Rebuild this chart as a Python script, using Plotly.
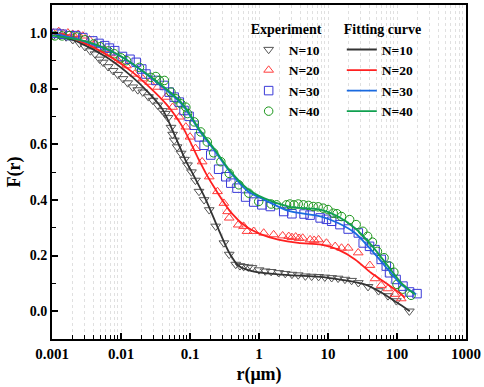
import plotly.graph_objects as go

# ---- Experimental data ----
r10 = [0.00105, 0.0013, 0.0016, 0.002, 0.0025, 0.003, 0.0036, 0.0042, 0.0049, 0.0055,
       0.0065, 0.0077, 0.009, 0.0107, 0.0125, 0.0148, 0.0175, 0.0207, 0.025, 0.029,
       0.034, 0.04, 0.044, 0.048, 0.053, 0.056, 0.059, 0.065, 0.074, 0.083,
       0.092, 0.105, 0.12, 0.135, 0.16, 0.19, 0.236, 0.31, 0.37, 0.46,
       0.53, 0.6, 0.7, 0.79, 1.0, 1.23, 1.5, 1.93, 2.4, 3.0,
       3.7, 4.7, 5.8, 7.3, 9.0, 11.3, 14, 17.6, 22, 27.5,
       38, 54, 74, 98, 151]
f10 = [0.99, 0.99, 0.985, 0.975, 0.962, 0.95, 0.935, 0.924, 0.905, 0.894,
       0.878, 0.864, 0.85, 0.835, 0.82, 0.805, 0.795, 0.787, 0.77, 0.757,
       0.74, 0.72, 0.71, 0.695, 0.66, 0.635, 0.614, 0.59, 0.567, 0.545,
       0.525, 0.5, 0.47, 0.43, 0.4, 0.364, 0.305, 0.245, 0.204, 0.168,
       0.163, 0.16, 0.158, 0.156, 0.148, 0.144, 0.142, 0.138, 0.135, 0.132,
       0.13, 0.126, 0.125, 0.124, 0.122, 0.12, 0.118, 0.114, 0.11, 0.102,
       0.088, 0.073, 0.055, 0.037, 0.0]

r20 = [0.00104, 0.00125, 0.00145, 0.0017, 0.002, 0.0024, 0.0028, 0.0035, 0.0042, 0.0058,
       0.007, 0.009, 0.012, 0.0158, 0.0207, 0.026, 0.034, 0.045, 0.056, 0.07,
       0.087, 0.1, 0.12, 0.15, 0.19, 0.25, 0.31, 0.35, 0.37, 0.5,
       0.6, 0.67, 0.84, 1.17, 1.63, 2.2, 2.7, 3.0, 3.4, 3.8,
       4.3, 5.5, 6.3, 7.3, 9.5, 12.7, 15.7, 19.6, 27.4, 40.4,
       48, 59, 74, 93, 115]
f20 = [1.0, 1.005, 0.998, 1.0, 0.995, 0.995, 0.989, 0.975, 0.96, 0.94,
       0.925, 0.9, 0.882, 0.852, 0.835, 0.823, 0.805, 0.769, 0.733, 0.698,
       0.662, 0.626, 0.585, 0.537, 0.483, 0.43, 0.388, 0.358, 0.335, 0.31,
       0.305, 0.287, 0.287, 0.281, 0.275, 0.271, 0.269, 0.265, 0.267, 0.262,
       0.263, 0.257, 0.255, 0.257, 0.245, 0.233, 0.227, 0.227, 0.21, 0.165,
       0.117, 0.093, 0.081, 0.061, 0.045]

r30 = [0.00117, 0.0014, 0.0018, 0.0022, 0.0028, 0.0039, 0.0048, 0.0058, 0.0068, 0.0081,
       0.0105, 0.0135, 0.0166, 0.02, 0.023, 0.032, 0.0425, 0.05, 0.059, 0.07,
       0.082, 0.097, 0.115, 0.136, 0.16, 0.2, 0.26, 0.33, 0.39, 0.48,
       0.64, 0.84, 1.1, 1.46, 2.28, 3.0, 4.5, 5.5, 7.7, 9.5,
       11.3, 14.9, 19.6, 27.5, 32.4, 40, 48, 59, 70, 78,
       97, 122, 152, 195]
f30 = [0.998, 0.995, 0.99, 0.99, 0.983, 0.971, 0.962, 0.954, 0.945, 0.936,
       0.915, 0.905, 0.894, 0.87, 0.852, 0.829, 0.811, 0.787, 0.769, 0.751,
       0.721, 0.70, 0.668, 0.626, 0.596, 0.561, 0.51, 0.483, 0.46, 0.442,
       0.41, 0.392, 0.382, 0.376, 0.358, 0.35, 0.349, 0.345, 0.335, 0.33,
       0.323, 0.311, 0.295, 0.281, 0.245, 0.233, 0.221, 0.186, 0.162, 0.138,
       0.114, 0.09, 0.069, 0.063]

r40 = [0.0011, 0.0014, 0.0018, 0.0023, 0.003, 0.004, 0.005, 0.0065, 0.008, 0.01,
       0.012, 0.0185, 0.027, 0.032, 0.036, 0.0425, 0.053, 0.0625, 0.074, 0.087,
       0.092, 0.115, 0.143, 0.178, 0.22, 0.28, 0.37, 0.51, 0.71, 0.99,
       1.5, 1.8, 2.5, 2.8, 3.2, 3.7, 4.4, 5.2, 6.1, 7.2,
       8.5, 10, 11.9, 13.5, 15.7, 20.6, 25.6, 32, 37.5, 44,
       52, 65, 78, 90, 100, 121, 160]
f40 = [0.989, 0.989, 0.99, 0.985, 0.975, 0.96, 0.95, 0.935, 0.925, 0.91,
       0.9, 0.876, 0.84, 0.843, 0.829, 0.829, 0.787, 0.763, 0.745, 0.733,
       0.71, 0.68, 0.644, 0.608, 0.569, 0.537, 0.495, 0.454, 0.424, 0.394,
       0.385, 0.382, 0.382, 0.385, 0.382, 0.385, 0.382, 0.38, 0.376, 0.375,
       0.37, 0.365, 0.352, 0.35, 0.34, 0.329, 0.311, 0.287, 0.269, 0.248,
       0.215, 0.192, 0.162, 0.14, 0.096, 0.079, 0.057]

# ---- Fitting curves ----
rf10 = [0.001, 0.0025, 0.0062, 0.0148, 0.024, 0.04, 0.063, 0.087, 0.109, 0.17,
        0.26, 0.37, 0.51, 0.79, 1.9, 10, 34, 59, 100, 153]
ff10 = [1.0, 0.965, 0.912, 0.84, 0.79, 0.725, 0.62, 0.54, 0.495, 0.4,
        0.293, 0.21, 0.162, 0.144, 0.132, 0.12, 0.096, 0.067, 0.031, 0.0]

rf20 = [0.001, 0.0016, 0.0049, 0.0148, 0.045, 0.078, 0.135, 0.17, 0.236, 0.4,
        0.64, 1.1, 1.9, 3.7, 8, 14, 24.7, 42, 74, 115, 130]
ff20 = [1.0, 0.99, 0.936, 0.858, 0.745, 0.662, 0.543, 0.495, 0.436, 0.352,
        0.305, 0.275, 0.257, 0.245, 0.239, 0.221, 0.186, 0.138, 0.096, 0.061, 0.049]

rf30 = [0.001, 0.0028, 0.0086, 0.026, 0.078, 0.135, 0.23, 0.38, 0.68, 1.2,
        2.7, 8, 14, 24.7, 42, 74, 115, 190]
ff30 = [1.0, 0.971, 0.924, 0.842, 0.74, 0.65, 0.575, 0.5, 0.432, 0.40,
        0.36, 0.34, 0.317, 0.281, 0.221, 0.15, 0.096, 0.061]

rf40 = [0.001, 0.003, 0.0086, 0.026, 0.078, 0.135, 0.23, 0.38, 0.68, 1.2,
        2.7, 8, 14, 24.7, 42, 74, 115, 180]
ff40 = [0.99, 0.97, 0.925, 0.845, 0.745, 0.655, 0.58, 0.505, 0.44, 0.405,
        0.376, 0.364, 0.34, 0.298, 0.239, 0.162, 0.102, 0.061]

labels = ["N=10", "N=20", "N=30", "N=40"]
x_tickvals = [0.001, 0.01, 0.1, 1, 10, 100, 1000]
x_ticktext = ["0.001", "0.01", "0.1", "1", "10", "100", "1000"]

FONT = "Liberation Serif"

fig = go.Figure()

exp_sets = [(r10, f10, "triangle-down-open", "#555555"),
            (r20, f20, "triangle-up-open", "#ff3c3c"),
            (r30, f30, "square-open", "#3a3ad8"),
            (r40, f40, "circle-open", "#1a961a")]
for (rx, fy, sym, col), lab in zip(exp_sets, labels):
    fig.add_trace(go.Scatter(x=rx, y=fy, mode="markers", name=lab, legend="legend",
                             marker=dict(symbol=sym, size=8.5, color=col,
                                         line=dict(width=1, color=col))))

fit_sets = [(rf10, ff10, "#333333"), (rf20, ff20, "#ff2020"),
            (rf30, ff30, "#1a6ae0"), (rf40, ff40, "#10a050")]
for (rx, fy, col), lab in zip(fit_sets, labels):
    fig.add_trace(go.Scatter(x=rx, y=fy, mode="lines", name=lab, legend="legend2",
                             line=dict(color=col, width=1.8, shape="spline", smoothing=0.8)))

item_font = dict(family=FONT, size=13.5, color="black", weight="bold")
title_font = dict(family=FONT, size=14, color="black", weight="bold")
fig.update_layout(
    width=484, height=387,
    margin=dict(l=52, r=14, t=3, b=48),
    paper_bgcolor="white", plot_bgcolor="white",
    font=dict(family=FONT, color="black"),
    legend=dict(title=dict(text="Experiment", font=title_font, side="top"),
                font=item_font, x=0.475, y=0.967, xanchor="left", yanchor="top",
                bgcolor="rgba(0,0,0,0)", tracegroupgap=0, itemsizing="trace"),
    legend2=dict(title=dict(text="Fitting curve", font=title_font, side="top"),
                 font=item_font, x=0.70, y=0.967, xanchor="left", yanchor="top",
                 bgcolor="rgba(0,0,0,0)", tracegroupgap=0),
    xaxis=dict(type="log", range=[-3, 3], tickvals=x_tickvals, ticktext=x_ticktext,
               ticks="inside", ticklen=6, tickwidth=1.5, tickcolor="black",
               ticklabeloverflow="allow",
               showline=True, linecolor="black", linewidth=2, mirror=True,
               showgrid=True, gridcolor="#e0e0e0", griddash="dot", gridwidth=1,
               minor=dict(ticks="inside", ticklen=4, tickwidth=1.2, tickcolor="black",
                          showgrid=True, gridcolor="#e0e0e0", griddash="dot", gridwidth=1,
                          dtick="D1"),
               tickfont=dict(family=FONT, size=15, weight="bold"),
               title=dict(text="r(μm)", font=dict(family=FONT, size=18, weight="bold"), standoff=6),
               zeroline=False),
    yaxis=dict(range=[-0.1, 1.1], tickvals=[0, 0.2, 0.4, 0.6, 0.8, 1.0], tickformat=".1f",
               ticks="inside", ticklen=6, tickwidth=1.5, tickcolor="black",
               showline=True, linecolor="black", linewidth=2, mirror=True,
               showgrid=False, zeroline=False,
               minor=dict(ticks="inside", ticklen=4, tickwidth=1.2, tickcolor="black",
                          tickvals=[-0.1, 0.1, 0.3, 0.5, 0.7, 0.9], showgrid=False),
               tickfont=dict(family=FONT, size=14, weight="bold"),
               title=dict(text="F(r)", font=dict(family=FONT, size=18, weight="bold"), standoff=4)),
)

fig.write_html("out.html", config={"displayModeBar": False},
               post_script="document.body.style.margin='0';")
